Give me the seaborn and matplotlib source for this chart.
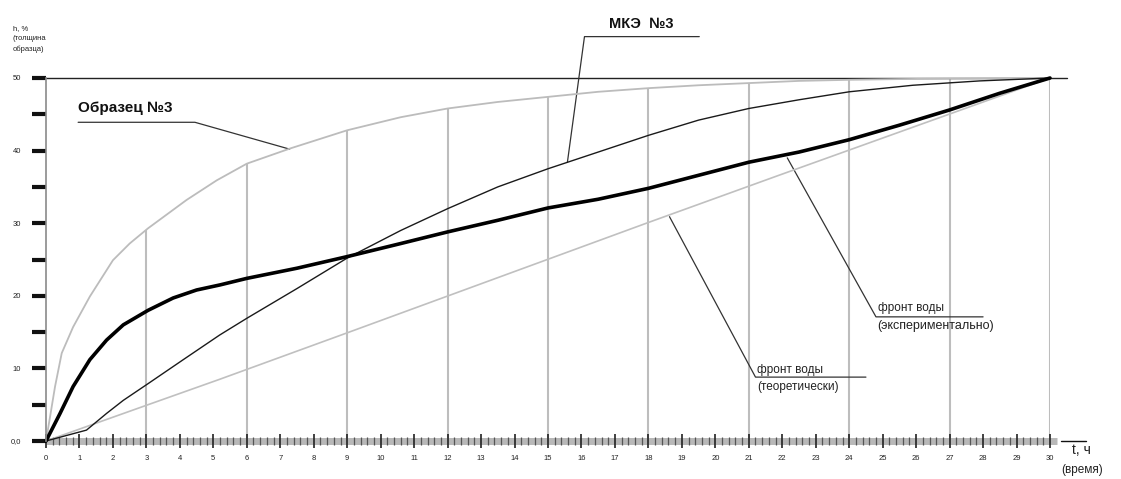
import matplotlib
matplotlib.use("Agg")
import matplotlib.pyplot as plt
import seaborn as sns
import pandas as pd
import numpy as np

# ---------------- data ----------------
obr_t = [0, 0.12, 0.27, 0.47, 0.81, 1.31, 2.0, 2.5, 3.05, 4.2, 5.1, 6.0, 7.3, 9.0, 10.6, 12.0, 13.5, 15.0, 16.5, 18.0, 19.5, 21.0, 22.5, 24.0, 25.5, 27.0, 28.5, 30.0]
obr_h = [0, 3.3, 7.5, 12.1, 15.7, 19.9, 24.9, 27.2, 29.3, 33.2, 35.9, 38.2, 40.3, 42.8, 44.6, 45.8, 46.7, 47.4, 48.1, 48.6, 49.0, 49.3, 49.6, 49.75, 49.85, 49.92, 49.97, 50.0]

mke_t = [0, 1.21, 1.81, 2.31, 3.05, 4.1, 5.19, 6.0, 7.5, 9.0, 10.6, 12.0, 13.5, 15.0, 16.5, 18.0, 19.5, 21.0, 22.5, 24.0, 25.9, 27.9, 30.0]
mke_h = [0, 1.5, 3.8, 5.6, 7.9, 11.2, 14.6, 16.9, 21.0, 25.2, 29.0, 32.0, 35.0, 37.5, 39.8, 42.1, 44.2, 45.8, 47.0, 48.1, 49.0, 49.6, 50.0]

exp_t = [0, 0.42, 0.81, 1.31, 1.81, 2.31, 3.05, 3.8, 4.5, 5.2, 6.0, 7.5, 9.0, 10.6, 12.0, 13.5, 15.0, 16.5, 18.0, 19.5, 21.0, 22.5, 24.0, 25.5, 27.0, 28.5, 30.0]
exp_h = [0, 3.8, 7.5, 11.2, 13.9, 16.0, 18.0, 19.7, 20.8, 21.5, 22.4, 23.8, 25.4, 27.2, 28.8, 30.4, 32.1, 33.3, 34.8, 36.6, 38.4, 39.8, 41.5, 43.5, 45.6, 47.9, 50.0]

teo_t = [0, 3.05, 5.19, 9.0, 18.0, 21.9, 30.0]
teo_h = [0, 5.0, 8.5, 14.9, 30.1, 36.6, 50.0]

drop_t = [3, 6, 9, 12, 15, 18, 21, 24, 27, 30]
drop_h = [29.1, 38.2, 42.8, 45.8, 47.4, 48.6, 49.3, 49.75, 49.92, 50.0]

limit_h = 50
x_labels = [str(i) for i in range(0, 31)]
y_ticks = list(range(0, 51, 5))
y_labels = ["0,0", "", "10", "", "20", "", "30", "", "40", "", "50"]

# ---------------- style ----------------
sns.set_style("white")
FAM = ["Liberation Sans Narrow", "Liberation Sans", "DejaVu Sans"]
plt.rcParams["font.family"] = FAM

fig = plt.figure(figsize=(11.21, 4.79), dpi=100)
ax = fig.add_axes([46 / 1121, 38 / 479, 1004 / 1121, 363 / 479])
ax.set_xlim(0, 30)
ax.set_ylim(0, 50)
ax.set_axisbelow(False)

# gray band along the time axis
ax.plot([0, 30.2], [0, 0], color="#b8b8b8", linewidth=5, solid_capstyle="butt", clip_on=False, zorder=1)

# vertical drop lines from the sample curve
ax.vlines(drop_t, 0, drop_h, colors="#bdbdbd", linewidth=1.5, zorder=1)

# 50 % limit line
ax.plot([0, 30.5], [limit_h, limit_h], color="#222222", linewidth=1.0, clip_on=False, zorder=2)

df_obr = pd.DataFrame({"t": obr_t, "h": obr_h})
df_mke = pd.DataFrame({"t": mke_t, "h": mke_h})
df_exp = pd.DataFrame({"t": exp_t, "h": exp_h})
df_teo = pd.DataFrame({"t": teo_t, "h": teo_h})

sns.lineplot(data=df_obr, x="t", y="h", ax=ax, color="#bcbcbc", linewidth=1.3, sort=False, estimator=None, clip_on=False, zorder=3)
sns.lineplot(data=df_teo, x="t", y="h", ax=ax, color="#c0c0c0", linewidth=1.2, sort=False, estimator=None, clip_on=False, zorder=3)
sns.lineplot(data=df_mke, x="t", y="h", ax=ax, color="#1a1a1a", linewidth=1.0, sort=False, estimator=None, clip_on=False, zorder=4)
sns.lineplot(data=df_exp, x="t", y="h", ax=ax, color="#000000", linewidth=2.6, sort=False, estimator=None, clip_on=False, zorder=5)

# ---------------- annotations ----------------
lc = "#333333"
ax.text(0.96, 45.9, "Образец №3", fontsize=11, fontweight="bold", ha="left", va="center", color="#111111")
ax.plot([0.96, 4.45, 7.28], [43.9, 43.9, 40.2], color=lc, linewidth=0.9, clip_on=False)

ax.text(17.8, 57.5, "МКЭ  №3", fontsize=10.5, fontweight="bold", ha="center", va="center", color="#111111")
ax.plot([19.52, 16.09, 15.58], [55.7, 55.7, 38.4], color=lc, linewidth=0.9, clip_on=False)

ax.text(24.85, 18.3, "фронт воды", fontsize=8.5, ha="left", va="center", color="#222222")
ax.text(24.85, 15.8, "(экспериментально)", fontsize=9, ha="left", va="center", color="#222222")
ax.plot([28.0, 24.8, 22.15], [17.1, 17.1, 39.0], color=lc, linewidth=0.9, clip_on=False)

ax.text(21.25, 9.8, "фронт воды", fontsize=8.5, ha="left", va="center", color="#222222")
ax.text(21.25, 7.4, "(теоретически)", fontsize=8.5, ha="left", va="center", color="#222222")
ax.plot([24.5, 21.2, 18.63], [8.8, 8.8, 30.9], color=lc, linewidth=0.9, clip_on=False)

# axis titles
ax.text(-1.0, 56.8, "h, %", fontsize=5.5, ha="left", va="center", color="#222222")
ax.text(-1.0, 55.4, "(толщина", fontsize=5.5, ha="left", va="center", color="#222222")
ax.text(-1.0, 54.0, "образца)", fontsize=5.5, ha="left", va="center", color="#222222")

ax.plot([30.33, 31.07], [0, 0], color="#111111", linewidth=1.0, clip_on=False)
ax.text(30.65, -1.3, "t, ч", fontsize=10, ha="left", va="center", color="#222222")
ax.text(30.35, -4.0, "(время)", fontsize=8.5, ha="left", va="center", color="#222222")

# ---------------- axes styling ----------------
for s in ["top", "right", "bottom"]:
    ax.spines[s].set_visible(False)
ax.spines["left"].set_color("#8a8a8a")
ax.spines["left"].set_linewidth(1.2)
ax.spines["left"].set_zorder(6)

ax.set_yticks(y_ticks)
ax.set_yticklabels(y_labels)
ax.tick_params(axis="y", which="major", direction="out", length=10, width=3, color="#111111",
               labelsize=5.5, pad=8, labelcolor="#222222", left=True)

ax.set_xticks(range(0, 31))
ax.set_xticklabels(x_labels)
ax.set_xticks(np.arange(0, 30.01, 0.2), minor=True)
ax.tick_params(axis="x", which="major", direction="inout", length=10, width=1.2, color="#222222",
               labelsize=5.5, pad=5, labelcolor="#222222", bottom=True)
ax.tick_params(axis="x", which="minor", direction="inout", length=6, width=0.9, color="#555555", bottom=True)

ax.set_xlabel("")
ax.set_ylabel("")
ax.grid(False)

fig.savefig("out.png", dpi=100)
